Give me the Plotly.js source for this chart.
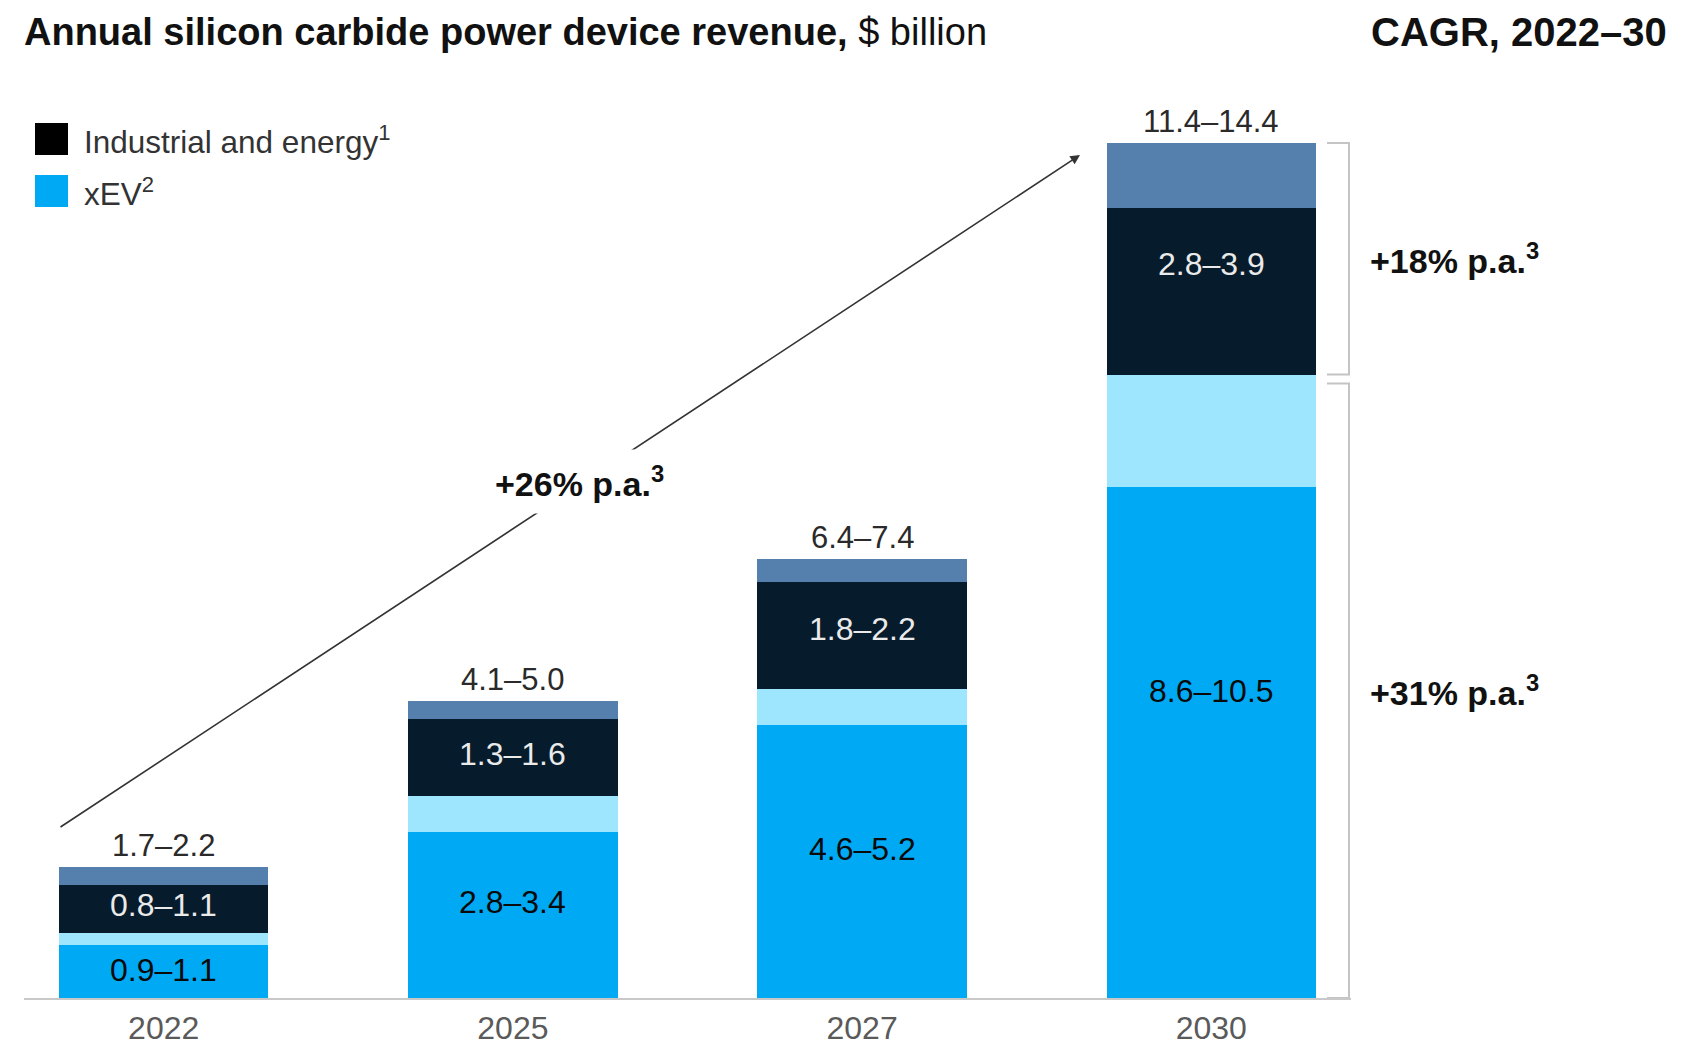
<!DOCTYPE html>
<html>
<head>
<meta charset="utf-8">
<script src="https://cdn.plot.ly/plotly-3.0.1.min.js"></script>
<style>
  html, body { margin: 0; padding: 0; background: #ffffff; }
  #chart { width: 1681px; height: 1045px; }
</style>
</head>
<body>
<div id="chart"></div>
<script>
// ---- Data ----
const years    = ['2022', '2025', '2027', '2030'];
const xevLow   = [0.9, 2.8, 4.6, 8.6];
const xevHigh  = [1.1, 3.4, 5.2, 10.5];
const indLow   = [0.8, 1.3, 1.8, 2.8];
const indHigh  = [1.1, 1.6, 2.2, 3.9];
const cagrTotal = '+26% p.a.<sup>3</sup>';
const cagrInd   = '+18% p.a.<sup>3</sup>';
const cagrXev   = '+31% p.a.<sup>3</sup>';

// ---- Styling / layout helpers ----
const FONT = 'Liberation Sans, Arial, Helvetica, sans-serif';
const W = 1681, H = 1045;
const M = {l: 24, r: 330, t: 100, b: 47};
const PW = W - M.l - M.r, PH = H - M.t - M.b;
const px = x => (x - M.l) / PW;           // pixel x -> paper x
const py = y => (H - M.b - y) / PH;       // pixel y -> paper y
const yMax = PH / 59.375;

const C = {xev: '#00a9f4', xevRange: '#9de6fd', ind: '#061b2b', indRange: '#5580ad'};

const fmt = (a, b) => a.toFixed(1) + '\u2013' + b.toFixed(1);
const diff = (hi, lo) => hi.map((v, i) => +(v - lo[i]).toFixed(3));

const traces = [
  {type: 'bar', x: years, y: xevLow, marker: {color: C.xev}, name: 'xEV low'},
  {type: 'bar', x: years, y: diff(xevHigh, xevLow), marker: {color: C.xevRange}, name: 'xEV range'},
  {type: 'bar', x: years, y: indLow, marker: {color: C.ind}, name: 'Industrial low'},
  {type: 'bar', x: years, y: diff(indHigh, indLow), marker: {color: C.indRange}, name: 'Industrial range'}
];

const annotations = [];
years.forEach((yr, i) => {
  // xEV range label, centred on the xEV part of the bar
  annotations.push({
    x: i, y: xevHigh[i] / 2, xref: 'x', yref: 'y',
    text: fmt(xevLow[i], xevHigh[i]), showarrow: false,
    xanchor: 'center', yanchor: 'middle', yshift: -5,
    font: {family: FONT, size: 32, color: '#0a0a0a'}
  });
  // industrial range label, centred on the industrial part of the bar
  annotations.push({
    x: i, y: xevHigh[i] + indHigh[i] / 2, xref: 'x', yref: 'y',
    text: fmt(indLow[i], indHigh[i]), showarrow: false,
    xanchor: 'center', yanchor: 'middle', yshift: -5,
    font: {family: FONT, size: 32, color: '#eaeaea'}
  });
  // total range above the bar
  annotations.push({
    x: i, y: xevHigh[i] + indHigh[i], xref: 'x', yref: 'y',
    text: fmt(xevLow[i] + indLow[i], xevHigh[i] + indHigh[i]),
    showarrow: false, xanchor: 'center', yanchor: 'bottom', yshift: 2,
    font: {family: FONT, size: 31, color: '#2a2a2a'}
  });
});
// header right
annotations.push({
  xref: 'paper', yref: 'paper', x: px(1669), y: py(32), xanchor: 'right', yanchor: 'middle',
  text: '<b>CAGR, 2022\u201330</b>', showarrow: false,
  font: {family: FONT, size: 40, color: '#111111'}
});
// legend texts
annotations.push({
  xref: 'paper', yref: 'paper', x: px(82), y: py(140), xanchor: 'left', yanchor: 'middle',
  text: 'Industrial and energy<sup>1</sup>', showarrow: false,
  font: {family: FONT, size: 31.5, color: '#333333'}
});
annotations.push({
  xref: 'paper', yref: 'paper', x: px(82), y: py(192), xanchor: 'left', yanchor: 'middle',
  text: 'xEV<sup>2</sup>', showarrow: false,
  font: {family: FONT, size: 31.5, color: '#333333'}
});
// growth arrow
annotations.push({
  xref: 'paper', yref: 'paper', x: px(1080), y: py(155),
  axref: 'pixel', ayref: 'pixel', ax: 59 - 1080, ay: 828 - 155,
  text: '', showarrow: true, arrowhead: 2, arrowsize: 1.2, arrowwidth: 1.6,
  arrowcolor: '#333333', standoff: 0, startstandoff: 0
});
annotations.push({
  xref: 'paper', yref: 'paper', x: px(579), y: py(481), xanchor: 'center', yanchor: 'middle',
  text: '<b>' + cagrTotal + '</b>', showarrow: false, bgcolor: '#ffffff', borderpad: 10,
  font: {family: FONT, size: 34, color: '#111111'}
});
// bracket labels
const last = years.length - 1;
const gapVal = 9 / 59.375;
annotations.push({
  xref: 'paper', yref: 'y', x: px(1368), y: (xevHigh[last] + indHigh[last] + xevHigh[last]) / 2,
  xanchor: 'left', yanchor: 'middle', text: '<b>' + cagrInd + '</b>', showarrow: false,
  font: {family: FONT, size: 34, color: '#111111'}
});
annotations.push({
  xref: 'paper', yref: 'y', x: px(1368), y: (xevHigh[last] - gapVal) / 2,
  xanchor: 'left', yanchor: 'middle', text: '<b>' + cagrXev + '</b>', showarrow: false,
  font: {family: FONT, size: 34, color: '#111111'}
});

const bx1 = px(1327), bx2 = px(1349);
const shapes = [
  // legend squares
  {type: 'rect', xref: 'paper', yref: 'paper', x0: px(35), x1: px(68), y0: py(155), y1: py(123),
   fillcolor: '#000000', line: {width: 0}},
  {type: 'rect', xref: 'paper', yref: 'paper', x0: px(35), x1: px(68), y0: py(207), y1: py(175),
   fillcolor: C.xev, line: {width: 0}},
  // upper bracket (industrial)
  {type: 'path', xref: 'paper', yref: 'y',
   path: `M ${bx1},${xevHigh[last] + indHigh[last]} L ${bx2},${xevHigh[last] + indHigh[last]} L ${bx2},${xevHigh[last]} L ${bx1},${xevHigh[last]}`,
   line: {color: '#c4c4c4', width: 2}},
  // lower bracket (xEV)
  {type: 'path', xref: 'paper', yref: 'y',
   path: `M ${bx1},${xevHigh[last] - gapVal} L ${bx2},${xevHigh[last] - gapVal} L ${bx2},0 L ${bx1},0`,
   line: {color: '#c4c4c4', width: 2}}
];

const layout = {
  width: W, height: H,
  margin: M,
  paper_bgcolor: '#ffffff', plot_bgcolor: '#ffffff',
  barmode: 'stack', bargap: 0.4,
  showlegend: false, hovermode: false,
  title: {
    text: '<b>Annual silicon carbide power device revenue,</b> $ billion',
    x: 24 / W, xanchor: 'left', y: 1 - 32 / H, yanchor: 'middle', xref: 'container', yref: 'container',
    font: {family: FONT, size: 38, color: '#111111'}
  },
  xaxis: {
    type: 'category', range: [-0.4, 3.4], fixedrange: true,
    showline: true, linecolor: '#c8c8c8', linewidth: 2,
    showgrid: false, zeroline: false,
    ticks: 'outside', ticklen: 1, tickcolor: 'rgba(0,0,0,0)',
    tickfont: {family: FONT, size: 32, color: '#5a5a5a'},
    automargin: false
  },
  yaxis: {
    range: [0, yMax], visible: false, showgrid: false, zeroline: false, fixedrange: true
  },
  annotations: annotations,
  shapes: shapes
};

Plotly.newPlot('chart', traces, layout, {displayModeBar: false, staticPlot: true});
</script>
</body>
</html>
